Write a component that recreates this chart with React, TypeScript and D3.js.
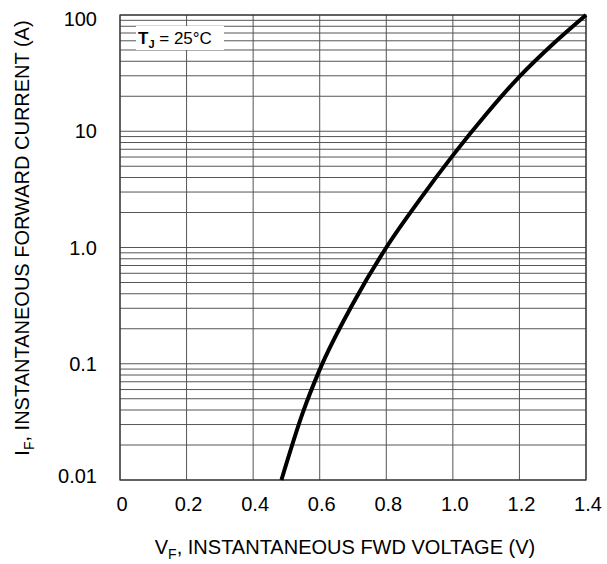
import * as d3 from 'd3';

// forward voltage (V) vs instantaneous forward current (A)
const voltage = [0.485, 0.55, 0.6, 0.7, 0.8, 0.9, 1.0, 1.1, 1.2, 1.3, 1.4];
const current = [0.01, 0.0385, 0.089, 0.33, 1.0, 2.57, 6.2, 14, 29.5, 56, 100];

const xTicks = [0, 0.2, 0.4, 0.6, 0.8, 1.0, 1.2, 1.4];
const xTickLabels = ['0', '0.2', '0.4', '0.6', '0.8', '1.0', '1.2', '1.4'];
const yTicks = [0.01, 0.1, 1, 10, 100];
const yTickLabels = ['0.01', '0.1', '1.0', '10', '100'];
const decades = [0.01, 0.1, 1, 10];
const multipliers = [1, 2, 3, 4, 5, 6, 7, 8, 9];

export default function App() {
  const width = 607;
  const height = 564;
  const margin = { top: 15, right: 21, bottom: 84, left: 120 };
  const innerW = width - margin.left - margin.right;
  const innerH = height - margin.top - margin.bottom;

  const x = d3.scaleLinear().domain([0, 1.4]).range([0, innerW]);
  const y = d3.scaleLog().domain([0.01, 100]).range([innerH, 0]);

  const gridY = decades.flatMap((d) => multipliers.map((m) => d * m)).concat([100]);

  const points: [number, number][] = voltage.map((v, i) => [v, current[i]]);
  const line = d3
    .line<[number, number]>()
    .x((d) => x(d[0]))
    .y((d) => y(d[1]))
    .curve(d3.curveMonotoneX);

  const font = 'Liberation Sans, Arial, sans-serif';

  return (
    <svg
      width={width}
      height={height}
      style={{ position: 'absolute', left: 0, top: 0, background: '#fff' }}
      fontFamily={font}
    >
      <g transform={`translate(${margin.left},${margin.top})`}>
        {gridY.map((v) => (
          <line key={`h${v}`} x1={0} x2={innerW} y1={y(v)} y2={y(v)} stroke="#555" strokeWidth={1} />
        ))}
        {xTicks.map((v) => (
          <line key={`v${v}`} x1={x(v)} x2={x(v)} y1={0} y2={innerH} stroke="#555" strokeWidth={1} />
        ))}
        <rect x={0} y={0} width={innerW} height={innerH} fill="none" stroke="#333" strokeWidth={1.2} />

        {/* legend box */}
        <rect x={16} y={11} width={88} height={24} fill="#fff" />
        <text x={18} y={29} fontSize={17} fill="#000">
          <tspan fontWeight="bold">T</tspan>
          <tspan fontWeight="bold" fontSize={11} dy={4}>J</tspan>
          <tspan dy={-4}> = 25°C</tspan>
        </text>

        <path d={line(points) ?? ''} fill="none" stroke="#000" strokeWidth={4} />

        {yTicks.map((v, i) => {
          const cy = Math.min(Math.max(y(v), 4), innerH - 4);
          return (
            <text key={`yl${v}`} x={-23} y={cy} dy="0.36em" textAnchor="end" fontSize={20} fill="#000">
              {yTickLabels[i]}
            </text>
          );
        })}
        {xTicks.map((v, i) => (
          <text key={`xl${v}`} x={x(v) + 2} y={innerH + 31} textAnchor="middle" fontSize={20} fill="#000">
            {xTickLabels[i]}
          </text>
        ))}
      </g>

      <text x={345} y={554} textAnchor="middle" fontSize={20} fill="#000">
        V<tspan fontSize={14} dy={5}>F</tspan>
        <tspan dy={-5}>, INSTANTANEOUS FWD VOLTAGE (V)</tspan>
      </text>
      <text
        transform={`translate(29,${238}) rotate(-90)`}
        textAnchor="middle"
        fontSize={20}
        fill="#000"
      >
        I<tspan fontSize={14} dy={5}>F</tspan>
        <tspan dy={-5}>, INSTANTANEOUS FORWARD CURRENT (A)</tspan>
      </text>
    </svg>
  );
}
